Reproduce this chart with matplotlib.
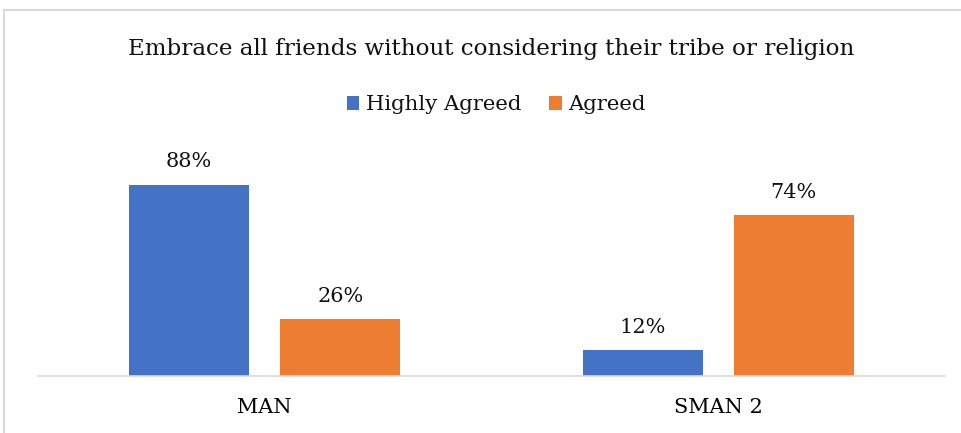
import matplotlib

matplotlib.use("Agg")
import matplotlib.pyplot as plt
import numpy as np
from matplotlib.patches import Rectangle

schools = ["MAN", "SMAN 2"]
highly_agreed = [88, 12]
agreed = [26, 74]
series_names = ["Highly Agreed", "Agreed"]

BLUE = "#4472c4"
ORANGE = "#ed7d31"
LINE = "#d9d9d9"
INK = "#111111"

plt.rcParams.update({"font.family": ["DejaVu Serif"], "text.color": INK})

W, H = 962, 433
fig = plt.figure(figsize=(W / 100, H / 100), dpi=100)
ax = fig.add_axes([38 / W, 1 - 376 / H, 907 / W, 217.5 / H])

x = np.arange(len(schools))
bw = 0.265
off = 0.1665
b1 = ax.bar(x - off, highly_agreed, bw, color=BLUE, label=series_names[0])
b2 = ax.bar(x + off, agreed, bw, color=ORANGE, label=series_names[1])
for bars, vals in ((b1, highly_agreed), (b2, agreed)):
    for b, v in zip(bars, vals):
        ax.annotate(f"{v}%", (b.get_x() + b.get_width() / 2, v), xytext=(0, 9.5),
                    textcoords="offset points", ha="center", va="bottom", fontsize=15)

ax.set_xlim(-0.5, 1.5)
ax.set_ylim(0, 100)
ax.set_yticks([])
ax.set_xticks(x, schools, fontsize=15)
ax.tick_params(axis="x", length=0, pad=15.5)
for s in ("top", "right", "left"):
    ax.spines[s].set_visible(False)
ax.spines["bottom"].set_color(LINE)
ax.spines["bottom"].set_linewidth(1.2)

fig.text(491 / W, 1 - 49 / H, "Embrace all friends without considering their tribe or religion",
         ha="center", va="center", fontsize=16.6)
fig.legend(handles=[b1, b2], loc="center", bbox_to_anchor=(496 / W, 1 - 105 / H), ncol=2,
           frameon=False, fontsize=15.3, handlelength=0.6, handleheight=0.6, handletextpad=0.3,
           columnspacing=1.3)

# light frame around the chart area
fig.patches.append(Rectangle((4 / W, -0.1), 1.2, 1.1 - 10 / H, transform=fig.transFigure,
                             fill=False, edgecolor=LINE, linewidth=1.5))

fig.savefig("out.png", dpi=100)
